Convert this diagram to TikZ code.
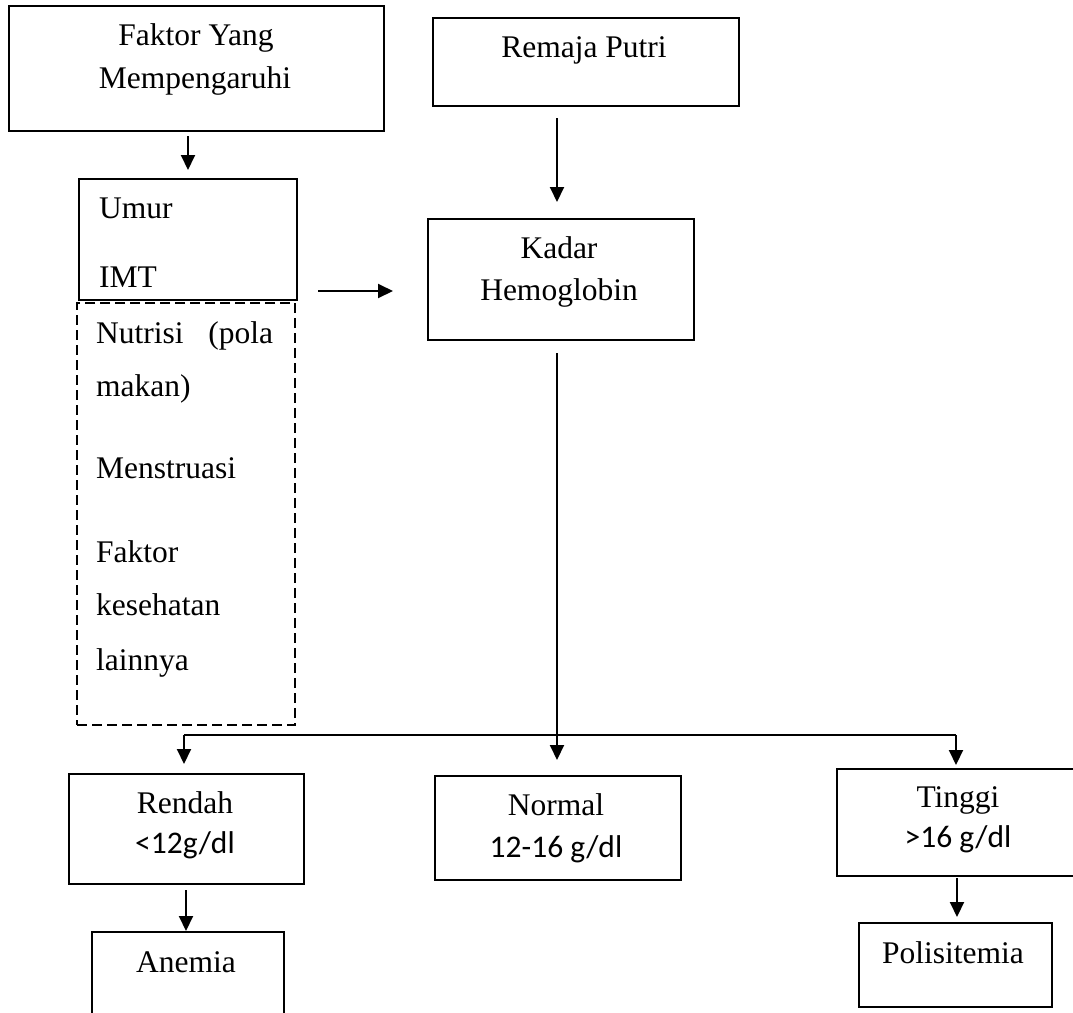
\documentclass[tikz,border=0pt]{standalone}
\usepackage{fontspec}
\setmainfont{Liberation Serif}
\newfontfamily\calfont{Carlito}
\usetikzlibrary{arrows.meta,calc}
\begin{document}
\begin{tikzpicture}[x=1pt,y=-1pt,
  box/.style={draw=black,line width=2pt,rectangle,inner sep=0pt,anchor=north west},
  dbox/.style={box,dash pattern=on 10pt off 5pt},
  txt/.style={inner sep=0pt,anchor=base,font=\fontsize{31.5}{38}\selectfont},
  ltxt/.style={txt,anchor=base west},
  ctxt/.style={txt,font=\calfont\fontsize{31.5}{38}\selectfont},
  arr/.style={line width=2pt,-{Triangle[length=15pt,width=14pt]}}]
\clip (0,0) rectangle (1073,1012);
\fill[white] (0,0) rectangle (1073,1012);
% boxes
\node[box,minimum width=375pt,minimum height=125pt] (b1) at (8,5) {};
\node[box,minimum width=306pt,minimum height=88pt] (b2) at (432,17) {};
\node[box,minimum width=218pt,minimum height=121pt] (b3) at (78,178) {};
\node[dbox,minimum width=218pt,minimum height=422pt] (b4) at (76,302) {};
\node[box,minimum width=266pt,minimum height=121pt] (b5) at (427,218) {};
\node[box,minimum width=235pt,minimum height=110pt] (b6) at (68,773) {};
\node[box,minimum width=246pt,minimum height=104pt] (b7) at (434,775) {};
\node[box,minimum width=244pt,minimum height=107pt] (b8) at (836,768) {};
\node[box,minimum width=192pt,minimum height=110pt] (b9) at (91,931) {};
\node[box,minimum width=193pt,minimum height=84pt] (b10) at (858,922) {};
% texts
\node[txt] (t1a) at (196,45) {Faktor Yang};
\node[txt] (t1b) at (195,88) {Mempengaruhi};
\node[txt] (t2) at (584,57) {Remaja Putri};
\node[ltxt] (t3a) at (99,218) {Umur};
\node[ltxt] (t3b) at (99,287) {IMT};
\node[ltxt] (t4a) at (96,343) {\hbox to 177pt{Nutrisi\hfill(pola}};
\node[ltxt] (t4b) at (96,396) {makan)};
\node[ltxt] (t4c) at (96,478) {Menstruasi};
\node[ltxt] (t4d) at (96,562) {Faktor};
\node[ltxt] (t4e) at (96,615) {kesehatan};
\node[ltxt] (t4f) at (96,670) {lainnya};
\node[txt] (t5a) at (559,258) {Kadar};
\node[txt] (t5b) at (559,300) {Hemoglobin};
\node[txt] (t6a) at (185,813) {Rendah};
\node[ctxt] (t6b) at (185,853) {<12g/dl};
\node[txt] (t7a) at (556,815) {Normal};
\node[ctxt] (t7b) at (556,857) {12-16 g/dl};
\node[txt] (t8a) at (958,807) {Tinggi};
\node[ctxt] (t8b) at (958,847) {>16 g/dl};
\node[txt] (t9) at (186,972) {Anemia};
\node[txt] (t10) at (953,963) {Polisitemia};
% connectors
\coordinate (br) at (557,735);
\draw[arr,shorten <=4pt,shorten >=8pt] (b3.north |- b1.south) -- (b3.north);
\draw[arr,shorten <=11pt,shorten >=16pt] (557,0 |- b2.south) -- (557,0 |- b5.north);
\draw[arr] ($(b3.south east)+(20,-10)$) -- ($(b5.west |- b3.south)+(-34,-10)$);
\draw[arr,shorten <=12pt,shorten >=15pt] (557,0 |- b5.south) -- (557,0 |- b7.north);
\draw[line width=2pt] (184,0 |- br) -- (956,0 |- br);
\draw[arr,shorten >=9pt] (184,0 |- br) -- (184,0 |- b6.north);
\draw[arr,shorten >=3pt] (956,0 |- br) -- (956,0 |- b8.north);
\draw[arr,shorten <=5pt] (186,0 |- b6.south) -- (186,0 |- b9.north);
\draw[arr,shorten <=1pt,shorten >=5pt] (957,0 |- b8.south) -- (957,0 |- b10.north);
\end{tikzpicture}
\end{document}
